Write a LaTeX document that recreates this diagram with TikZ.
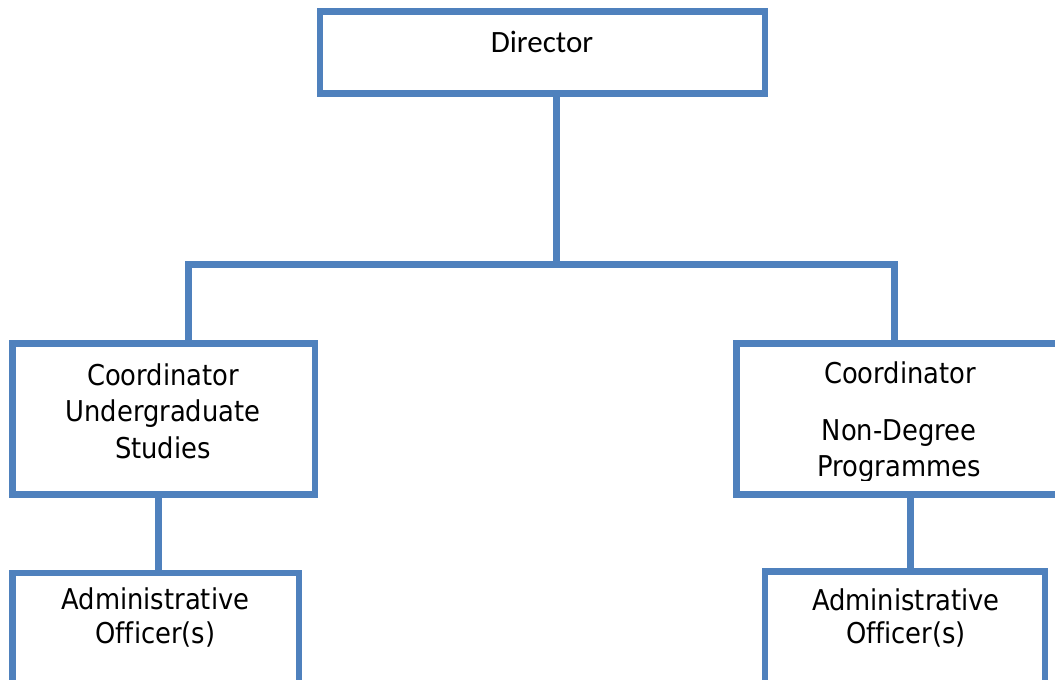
\documentclass[tikz,border=0pt]{standalone}
\usepackage{fontspec}
\newfontfamily\headfont{Carlito}
\newfontfamily\boxfont[Ligatures=NoCommon]{DejaVu Sans Condensed}
\definecolor{orgblue}{HTML}{4F81BD}
\begin{document}
\begin{tikzpicture}[x=0.75pt,y=-0.75pt,
  orgbox/.style={draw=orgblue,line width=5.1pt,rectangle,inner sep=0pt,outer sep=0pt},
  link/.style={draw=orgblue,line width=5.1pt,line join=miter},
  headtext/.style={anchor=base,inner sep=0pt,font=\headfont\fontsize{23.25}{28}\selectfont},
  bodytext/.style={anchor=base,inner sep=0pt,font=\boxfont\fontsize{21.5}{26}\selectfont}]
\clip (0,0) rectangle (1055,679);

% boxes
\node[orgbox,minimum width=333.75pt,minimum height=61.5pt] (director) at (542.5,52.5) {};
\node[orgbox,minimum width=226.9pt,minimum height=113.25pt] (cug) at (163.75,419) {};
\node[orgbox,minimum width=243.75pt,minimum height=113.25pt] (cnd) at (899,419) {};
\node[orgbox,minimum width=214.9pt,minimum height=97.5pt] (aol) at (155.75,638) {};
\node[orgbox,minimum width=210pt,minimum height=97.5pt] (aor) at (905,636.5) {};

% junction points of the connectors
\coordinate (hub) at (556.5,264.5);
\coordinate (jl) at (188.5,264.5);
\coordinate (jr) at (894.5,264.5);
\coordinate (lx) at (158.5,0);
\coordinate (rx) at (910.5,0);

% connectors
\draw[link] (director.south -| hub) -- (hub);
\draw[link] (cug.north -| jl) -- (jl) -- (jr) -- (cnd.north -| jr);
\draw[link] (cug.south -| lx) -- (aol.north -| lx);
\draw[link] (cnd.south -| rx) -- (aor.north -| rx);

% texts
\node[headtext] (tdir) at (542,52) {Director};

\node[bodytext] (tug1) at (163,385) {Coordinator};
\node[bodytext] (tug2) at (163,421.5) {Undergraduate};
\node[bodytext] (tug3) at (163,458) {Studies};

\begin{scope}
\clip (740,347) rectangle (1060,480.5);
\node[bodytext] (tnd1) at (900,383.5) {Coordinator};
\node[bodytext] (tnd2) at (899,440) {Non-Degree};
\node[bodytext] (tnd3) at (899,476.5) {Programmes};
\end{scope}

\node[bodytext] (tal1) at (155.5,609) {Administrative};
\node[bodytext] (tal2) at (155.5,643) {Officer(s)};
\node[bodytext] (tar1) at (906,610) {Administrative};
\node[bodytext] (tar2) at (906,643) {Officer(s)};
\end{tikzpicture}
\end{document}
